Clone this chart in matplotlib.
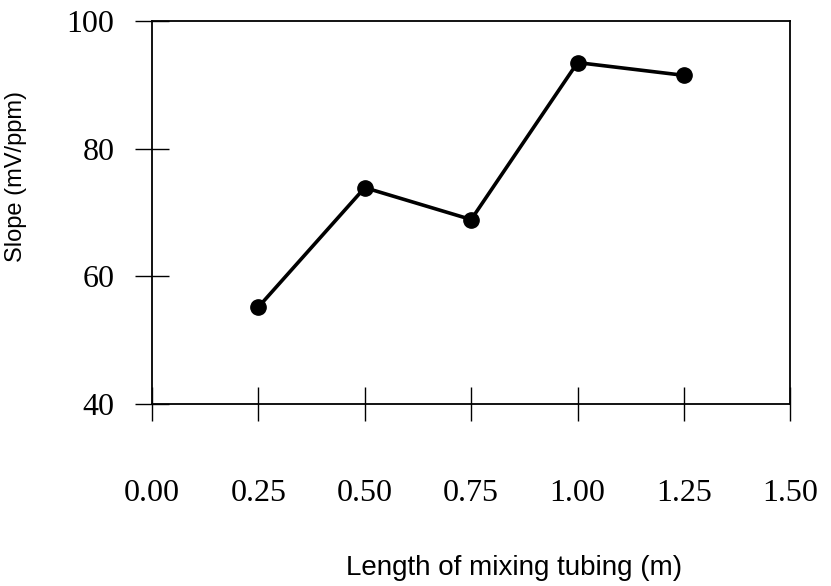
import matplotlib
matplotlib.use("Agg")
import matplotlib.pyplot as plt

# ---- data ----
tube_length = [0.25, 0.50, 0.75, 1.00, 1.25]
slope = [55.2, 73.9, 68.9, 93.5, 91.5]

x_ticks = [0.00, 0.25, 0.50, 0.75, 1.00, 1.25, 1.50]
x_tick_labels = ["0.00", "0.25", "0.50", "0.75", "1.00", "1.25", "1.50"]
y_ticks = [40, 60, 80, 100]
y_tick_labels = ["40", "60", "80", "100"]


def main():
    fig = plt.figure(figsize=(8.31, 5.86), dpi=100)
    ax = fig.add_axes([0.183, 0.3106, 0.768, 0.6534])

    ax.plot(tube_length, slope, color="black", lw=2.6,
            marker="o", markersize=11, markerfacecolor="black",
            markeredgecolor="black", zorder=3)

    ax.set_xlim(0, 1.5)
    ax.set_ylim(40, 100)

    ax.set_xticks(x_ticks)
    ax.set_xticklabels(x_tick_labels, family="Liberation Serif", fontsize=23)
    ax.set_yticks(y_ticks)
    ax.set_yticklabels(y_tick_labels, family="Liberation Serif", fontsize=23)

    ax.tick_params(axis="x", direction="inout", length=24, width=1.0, pad=42)
    ax.tick_params(axis="y", direction="inout", length=24, width=1.0, pad=15)

    for sp in ax.spines.values():
        sp.set_linewidth(1.3)

    ax.set_xlabel("Length of mixing tubing (m)", family="Liberation Sans", fontsize=20)
    ax.set_ylabel("Slope (mV/ppm)", family="Liberation Sans", fontsize=17)
    ax.xaxis.set_label_coords(0.567, -0.394)
    ax.yaxis.set_label_coords(-0.196, 0.593)

    fig.savefig("out.png", dpi=100)
    plt.close(fig)


if __name__ == "__main__":
    main()
